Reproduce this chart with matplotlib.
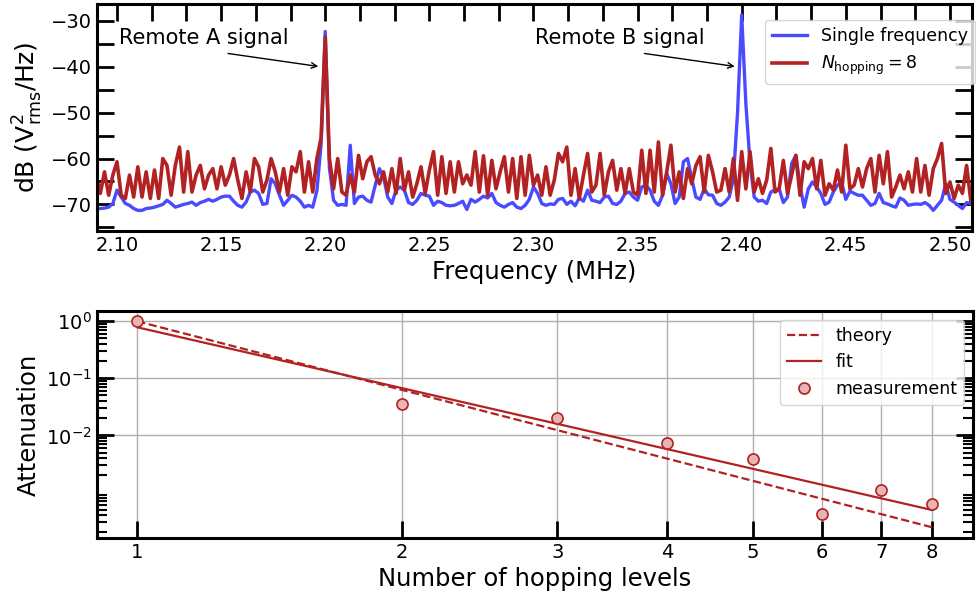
import numpy as np
import matplotlib.pyplot as plt
from matplotlib.ticker import MultipleLocator, AutoMinorLocator, LogLocator, NullFormatter, FixedLocator

# spectrum on a 2 kHz grid
freq = np.linspace(2.09, 2.51, 211)

single_freq = [
    -70.9, -70.9, -70.8, -70.6, -69.8, -66.9, -68.4, -69.8, -70.2, -70.9,
    -71.3, -71.3, -70.9, -70.8, -70.6, -70.3, -70.0, -69.1, -69.8, -70.6,
    -70.3, -70.0, -69.8, -69.5, -70.2, -69.6, -69.3, -68.9, -69.3, -68.9,
    -68.4, -68.2, -68.2, -69.3, -70.2, -70.6, -69.5, -67.3, -66.9, -67.6,
    -70.0, -69.8, -64.4, -65.5, -68.0, -70.2, -69.1, -68.0, -68.4, -69.3,
    -70.6, -70.2, -70.6, -67.0, -57.0, -32.3, -62.0, -69.1, -70.2, -70.0,
    -70.2, -57.1, -69.8, -68.4, -68.2, -69.1, -69.5, -65.8, -62.2, -64.0,
    -68.4, -69.8, -66.9, -66.2, -66.9, -69.6, -70.0, -69.1, -67.6, -68.0,
    -68.2, -70.2, -69.3, -69.6, -70.2, -70.3, -70.2, -69.8, -69.3, -71.1,
    -68.9, -69.5, -68.9, -68.2, -68.6, -67.6, -69.6, -70.2, -70.6, -70.0,
    -69.6, -70.6, -70.9, -70.2, -68.9, -66.2, -67.6, -69.8, -70.2, -69.9,
    -70.0, -68.9, -68.7, -70.0, -69.3, -70.3, -68.6, -69.3, -66.9, -69.1,
    -69.3, -69.6, -68.4, -68.2, -69.8, -70.0, -69.3, -67.6, -67.3, -68.4,
    -69.1, -66.2, -65.8, -66.9, -69.3, -70.2, -68.0, -63.3, -65.5, -69.8,
    -68.4, -60.7, -60.0, -64.4, -68.4, -68.9, -66.6, -67.9, -68.0, -69.8,
    -70.2, -69.5, -68.4, -64.4, -50.0, -28.7, -48.0, -61.0, -68.4, -69.3,
    -69.1, -69.8, -67.3, -66.8, -66.6, -69.6, -68.4, -61.1, -59.3, -65.8,
    -70.6, -66.6, -65.1, -66.2, -67.6, -70.0, -69.5, -67.3, -65.8, -65.2,
    -68.9, -67.1, -67.6, -68.0, -68.0, -69.1, -70.2, -69.8, -67.6, -69.6,
    -69.9, -70.3, -70.6, -68.6, -69.1, -70.2, -70.0, -69.9, -70.0, -69.6,
    -70.2, -71.3, -70.2, -69.1, -65.5, -68.9, -69.5, -70.2, -70.9, -69.6,
    -69.8,
]

hopping8 = [
    -63.6, -67.6, -62.9, -68.0, -63.6, -60.7, -68.0, -68.7, -63.6, -68.4,
    -61.8, -68.4, -62.9, -68.7, -62.5, -68.7, -60.0, -61.5, -68.0, -61.5,
    -57.5, -67.3, -58.5, -67.3, -63.6, -61.5, -66.6, -63.6, -62.2, -66.6,
    -61.8, -65.8, -63.6, -60.0, -64.7, -68.7, -62.9, -67.3, -60.0, -61.8,
    -67.3, -64.7, -60.0, -62.9, -67.3, -62.2, -68.0, -61.8, -62.9, -58.5,
    -67.3, -60.7, -67.3, -60.0, -55.5, -33.5, -60.0, -66.6, -60.0, -67.3,
    -68.0, -63.6, -67.3, -59.3, -64.4, -60.7, -59.6, -63.6, -65.5, -62.9,
    -67.3, -62.2, -67.6, -60.0, -66.9, -62.9, -68.4, -65.5, -61.8, -67.6,
    -62.5, -58.5, -68.0, -59.6, -67.6, -60.7, -67.3, -60.7, -65.5, -63.6,
    -65.8, -58.5, -67.3, -59.4, -68.0, -60.4, -66.6, -62.9, -59.6, -67.3,
    -60.0, -68.7, -59.6, -68.0, -59.3, -65.8, -63.6, -68.0, -61.8, -68.0,
    -64.7, -58.9, -60.7, -57.5, -68.0, -62.2, -68.7, -63.6, -58.9, -67.3,
    -65.8, -58.9, -68.0, -62.9, -60.4, -66.9, -62.2, -67.6, -62.2, -67.3,
    -68.0, -58.2, -67.6, -58.2, -67.3, -56.4, -68.0, -62.9, -57.1, -67.3,
    -62.9, -68.7, -62.2, -65.5, -61.5, -59.6, -67.3, -59.3, -62.9, -67.3,
    -66.9, -62.2, -67.3, -60.0, -69.1, -58.5, -66.6, -58.5, -67.3, -64.4,
    -67.6, -64.7, -57.8, -67.3, -66.6, -60.4, -67.6, -63.6, -59.3, -68.0,
    -60.7, -62.2, -60.0, -66.6, -60.4, -68.0, -65.5, -66.9, -62.5, -67.3,
    -57.1, -66.6, -65.8, -62.2, -66.2, -62.2, -60.0, -67.3, -59.3, -65.5,
    -58.5, -68.4, -66.2, -63.6, -66.6, -62.9, -67.3, -60.0, -67.3, -61.5,
    -68.0, -62.2, -60.0, -56.7, -67.6, -65.1, -68.7, -65.8, -67.6, -61.5,
    -69.1,
]

# attenuation vs number of hopping levels
n_levels = [1, 2, 3, 4, 5, 6, 7, 8]
attenuation = [1.0, 0.036, 0.020, 0.0073, 0.0039, 0.00042, 0.00112, 0.00062]
n_line = [1, 8]
theory = [1.0, 2.44e-4]
fit = [0.785, 4.9e-4]

blue = '#4a4aff'
red = '#b22222'

fig = plt.figure(figsize=(9.76, 5.98), dpi=100)
ax1 = fig.add_axes([0.0994, 0.6137, 0.8965, 0.3796])
ax2 = fig.add_axes([0.0994, 0.1003, 0.8975, 0.3796])

# top panel
ax1.plot(freq, single_freq, color=blue, lw=2.4, label='Single frequency')
ax1.plot(freq, hopping8, color=red, lw=2.6, label=r'$N_{\rm hopping} = 8$')
ax1.set_xlim(2.0904, 2.5106)
ax1.set_ylim(-75.8, -26.3)
ax1.xaxis.set_major_locator(MultipleLocator(0.05))
ax1.xaxis.set_minor_locator(AutoMinorLocator(3))
ax1.yaxis.set_major_locator(MultipleLocator(10))
ax1.yaxis.set_minor_locator(MultipleLocator(5))
ax1.tick_params(axis='x', which='both', direction='in', bottom=False, top=True,
                length=12, width=2, labelsize=14)
ax1.tick_params(axis='y', which='both', direction='in', left=True, right=True,
                length=12, width=2, labelsize=14)
ax1.set_xlabel('Frequency (MHz)', fontsize=17.5)
ax1.set_ylabel(r'dB ($\mathrm{V^2_{rms}}$/Hz)', fontsize=18)

ax1.text(2.1418, -33.7, 'Remote A signal', fontsize=15, ha='center', va='center')
ax1.annotate('', xy=(2.198, -40), xytext=(2.152, -37),
             arrowprops=dict(arrowstyle='->', color='k', lw=1))
ax1.text(2.3415, -33.7, 'Remote B signal', fontsize=15, ha='center', va='center')
ax1.annotate('', xy=(2.398, -40), xytext=(2.352, -37),
             arrowprops=dict(arrowstyle='->', color='k', lw=1))
ax1.legend(loc='upper right', bbox_to_anchor=(1.003, 0.93), borderaxespad=0,
           fontsize=12.5)

# bottom panel
ax2.plot(n_line, theory, '--', color=red, lw=1.6, label='theory')
ax2.plot(n_line, fit, '-', color=red, lw=1.6, label='fit')
ax2.plot(n_levels, attenuation, 'o', color=red, mfc='#e8b4b4', mec=red,
         ms=8, mew=1.2, label='measurement')
ax2.set_xscale('log')
ax2.set_yscale('log')
ax2.set_xlim(0.9, 8.9)
ax2.set_ylim(10**-3.8, 10**0.18)
ax2.xaxis.set_major_locator(FixedLocator(n_levels))
ax2.xaxis.set_major_formatter(plt.FixedFormatter([str(n) for n in n_levels]))
ax2.xaxis.set_minor_locator(FixedLocator([]))
ax2.yaxis.set_major_locator(FixedLocator([1, 0.1, 0.01]))
ax2.yaxis.set_minor_locator(LogLocator(base=10, subs=np.arange(2, 10), numticks=20))
ax2.yaxis.set_minor_formatter(NullFormatter())
ax2.tick_params(axis='x', which='both', direction='in', bottom=True, top=False,
                length=12, width=2, labelsize=14)
ax2.tick_params(axis='y', which='major', direction='in', left=True, right=True,
                length=12, width=2, labelsize=14)
ax2.tick_params(axis='y', which='minor', direction='in', left=True, right=True,
                length=7, width=1.5)
ax2.grid(True, which='major', color='#b0b0b0', lw=1)
ax2.set_xlabel('Number of hopping levels', fontsize=17.5)
ax2.set_ylabel('Attenuation', fontsize=17.5)
ax2.legend(loc='upper right', fontsize=12.5)

for ax in (ax1, ax2):
    for s in ax.spines.values():
        s.set_linewidth(2.2)

fig.savefig('out.png', dpi=100)
